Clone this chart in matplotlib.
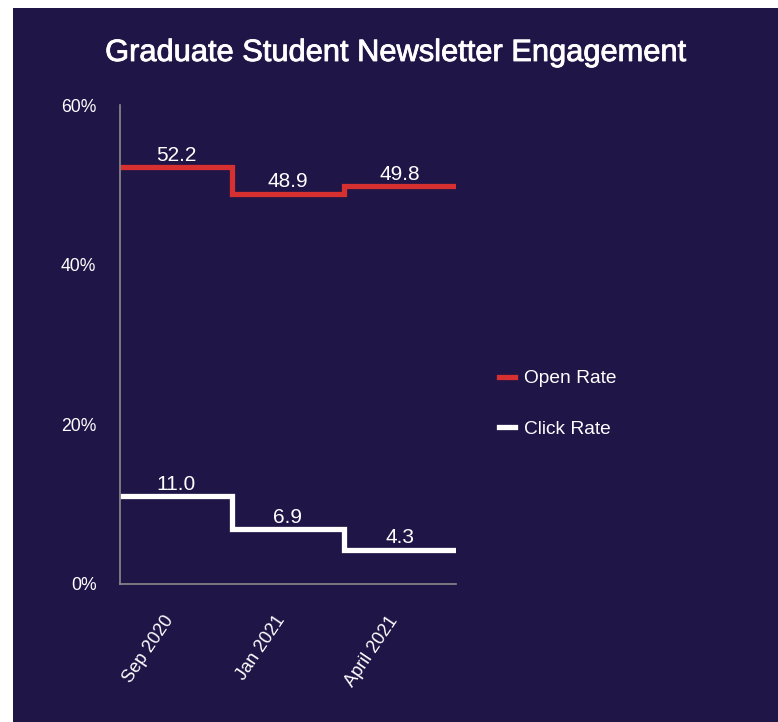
import matplotlib.pyplot as plt
import matplotlib.patheffects as pe
import matplotlib.transforms as mtransforms
import numpy as np
from matplotlib.patches import Rectangle

# ================= 数据 =================
periods = ['Sep 2020', 'Jan 2021', 'April 2021']
open_rate = [52.2, 48.9, 49.8]
click_rate = [11.0, 6.9, 4.3]
y_ticks = [0, 20, 40, 60]

BG = '#1f1547'
RED = '#d63031'

plt.rcParams['font.family'] = ['Liberation Sans', 'DejaVu Sans']

fig = plt.figure(figsize=(7.78, 7.22), dpi=100, facecolor='white')
# 深色背景（左侧和顶部留白）
fig.patches.append(Rectangle((13 / 778, 0), 1 - 13 / 778, 1 - 8 / 722,
                             transform=fig.transFigure, facecolor=BG,
                             edgecolor='none', zorder=-10))

ax = fig.add_axes([120 / 778, 138 / 722, 336 / 778, 479 / 722])
ax.set_facecolor(BG)

edges = np.arange(len(periods) + 1)
centers = edges[:-1] + 0.5

ax.stairs(open_rate, edges, color=RED, linewidth=3.8, label='Open Rate', baseline=None)
ax.stairs(click_rate, edges, color='white', linewidth=3.8, label='Click Rate', baseline=None)

for xc, v in zip(centers, open_rate):
    ax.text(xc, v + 0.3, f'{v:.1f}', ha='center', va='bottom', color='white', fontsize=15)
for xc, v in zip(centers, click_rate):
    ax.text(xc, v + 0.3, f'{v:.1f}', ha='center', va='bottom', color='white', fontsize=15)

ax.set_xlim(0, len(periods))
ax.set_ylim(0, 60)
ax.set_yticks(y_ticks)
ax.set_yticklabels([f'{t}%' for t in y_ticks], color='white', fontsize=12.7)
ax.set_xticks(centers)
ax.set_xticklabels(periods, rotation=56, ha='right', va='center', rotation_mode='anchor',
                   color='white', fontsize=13)
ax.tick_params(axis='y', length=0, pad=17)
ax.tick_params(axis='x', length=0, pad=24)
# x 标签整体左移一点
shift = mtransforms.ScaledTranslation(-6 / 100, 0, fig.dpi_scale_trans)
for lbl in ax.get_xticklabels():
    lbl.set_transform(lbl.get_transform() + shift)

for s in ['top', 'right']:
    ax.spines[s].set_visible(False)
for s in ['left', 'bottom']:
    ax.spines[s].set_color('#8a8a8a')
    ax.spines[s].set_linewidth(1.2)

leg = fig.legend(loc='center left', bbox_to_anchor=(482 / 778, 1 - 404 / 722),
                 frameon=False, fontsize=13.8, labelcolor='white',
                 handlelength=0.8, labelspacing=1.75, handletextpad=0.5)

fig.text(396 / 778, 1 - 53 / 722, 'Graduate Student Newsletter Engagement',
         ha='center', va='center', color='white', fontsize=22.2,
         path_effects=[pe.withStroke(linewidth=0.6, foreground='white')])

plt.savefig('out.png', dpi=100, facecolor=fig.get_facecolor())
